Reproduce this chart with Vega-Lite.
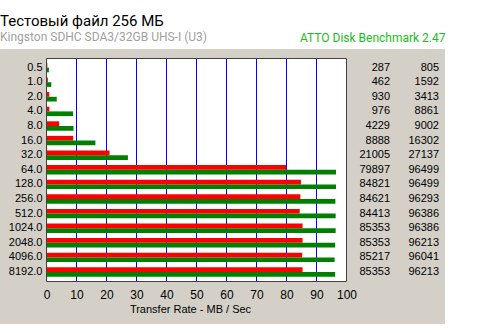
{
  "$schema": "https://vega.github.io/schema/vega-lite/v6.json",
  "width": 445,
  "height": 275,
  "autosize": {"type": "none"},
  "padding": {"left": 0, "top": 49, "right": 55, "bottom": 9},
  "background": "white",
  "config": {"view": {"fill": "#d4d0c8", "stroke": null}},
  "title": {
    "text": "Тестовый файл 256 МБ",
    "subtitle": "Kingston SDHC SDA3/32GB UHS-I (U3)",
    "anchor": "start",
    "frame": "group",
    "font": "Roboto",
    "fontSize": 15,
    "fontWeight": "normal",
    "color": "#000000",
    "subtitleFont": "Roboto",
    "subtitleFontSize": 12,
    "subtitleColor": "#a0a0a0",
    "subtitlePadding": 3,
    "offset": -12
  },
  "datasets": {
    "grid": [{"t": 10000}, {"t": 20000}, {"t": 30000}, {"t": 40000}, {"t": 50000}, {"t": 60000}, {"t": 70000}, {"t": 80000}, {"t": 90000}],
    "bench": [
      {"size": "0.5", "op": "write", "value": 287}, {"size": "0.5", "op": "read", "value": 805},
      {"size": "1.0", "op": "write", "value": 462}, {"size": "1.0", "op": "read", "value": 1592},
      {"size": "2.0", "op": "write", "value": 930}, {"size": "2.0", "op": "read", "value": 3413},
      {"size": "4.0", "op": "write", "value": 976}, {"size": "4.0", "op": "read", "value": 8861},
      {"size": "8.0", "op": "write", "value": 4229}, {"size": "8.0", "op": "read", "value": 9002},
      {"size": "16.0", "op": "write", "value": 8888}, {"size": "16.0", "op": "read", "value": 16302},
      {"size": "32.0", "op": "write", "value": 21005}, {"size": "32.0", "op": "read", "value": 27137},
      {"size": "64.0", "op": "write", "value": 79897}, {"size": "64.0", "op": "read", "value": 96499},
      {"size": "128.0", "op": "write", "value": 84821}, {"size": "128.0", "op": "read", "value": 96499},
      {"size": "256.0", "op": "write", "value": 84621}, {"size": "256.0", "op": "read", "value": 96293},
      {"size": "512.0", "op": "write", "value": 84413}, {"size": "512.0", "op": "read", "value": 96386},
      {"size": "1024.0", "op": "write", "value": 85353}, {"size": "1024.0", "op": "read", "value": 96386},
      {"size": "2048.0", "op": "write", "value": 85353}, {"size": "2048.0", "op": "read", "value": 96213},
      {"size": "4096.0", "op": "write", "value": 85217}, {"size": "4096.0", "op": "read", "value": 96041},
      {"size": "8192.0", "op": "write", "value": 85353}, {"size": "8192.0", "op": "read", "value": 96213}
    ]
  },
  "layer": [
    {
      "data": {"values": [{}]},
      "mark": {"type": "rect", "fill": "#ffffff", "stroke": null},
      "encoding": {
        "x": {
          "datum": 0, "type": "quantitative",
          "scale": {"domain": [0, 100000], "range": [46.5, 346.5], "nice": false, "zero": false},
          "axis": {
            "orient": "top", "labels": false, "ticks": false, "domain": false, "grid": false,
            "title": "ATTO Disk Benchmark 2.47",
            "titleX": 445, "titleY": -8, "titleAlign": "right", "titleAnchor": null, "titleBaseline": "alphabetic",
            "titleFont": "Roboto", "titleFontSize": 12, "titleFontWeight": "normal", "titleColor": "#22bb22"
          }
        },
        "x2": {"datum": 100000},
        "y": {
          "datum": 0, "type": "quantitative",
          "scale": {"domain": [0, 1], "range": [232.5, 9.5], "nice": false, "zero": false},
          "axis": null
        },
        "y2": {"datum": 1}
      }
    },
    {
      "data": {"name": "grid"},
      "mark": {"type": "rule", "color": "#0000ff", "strokeWidth": 1},
      "encoding": {
        "x": {"field": "t", "type": "quantitative", "scale": {"domain": [0, 100000], "range": [46.5, 346.5], "nice": false, "zero": false}, "axis": null},
        "y": {"datum": 0, "type": "quantitative", "scale": {"domain": [0, 1], "range": [232.5, 9.5], "nice": false, "zero": false}, "axis": null},
        "y2": {"datum": 1}
      }
    },
    {
      "data": {"name": "bench"},
      "mark": {"type": "bar"},
      "encoding": {
        "y": {
          "field": "size", "type": "nominal", "sort": null,
          "scale": {"type": "band", "range": [11.3, 230.3], "paddingInner": 0, "paddingOuter": 0},
          "axis": {
            "orient": "left", "offset": -46, "domain": false, "ticks": false, "tickSize": 0, "grid": false,
            "labelPadding": 4, "labelFont": "Liberation Sans", "labelFontSize": 11, "labelColor": "#000000",
            "title": null
          }
        },
        "yOffset": {
          "field": "op", "type": "nominal",
          "scale": {"domain": ["write", "read"], "paddingInner": 0, "paddingOuter": 0.553}
        },
        "x": {
          "field": "value", "type": "quantitative",
          "scale": {"domain": [0, 100000], "range": [46.5, 346.5], "nice": false, "zero": false},
          "axis": {
            "orient": "bottom", "offset": -43,
            "values": [0, 10000, 20000, 30000, 40000, 50000, 60000, 70000, 80000, 90000, 100000],
            "labelExpr": "format(datum.value / 1000, 'd')",
            "domain": false, "ticks": false, "tickSize": 0, "grid": false,
            "labelPadding": 8, "labelFont": "Liberation Sans", "labelFontSize": 12, "labelColor": "#000000",
            "labelFlush": false, "labelOverlap": false,
            "title": "Transfer Rate - MB / Sec",
            "titleFont": "Liberation Sans", "titleFontSize": 11, "titleFontWeight": "normal", "titleColor": "#000000",
            "titleX": 190, "titleY": 31, "titleBaseline": "alphabetic", "titleAlign": "center"
          }
        },
        "color": {
          "field": "op", "type": "nominal",
          "scale": {"domain": ["write", "read"], "range": ["#ff0000", "#008000"]},
          "legend": null
        }
      }
    },
    {
      "data": {"values": [{}]},
      "mark": {"type": "rect", "filled": false, "stroke": "#404040", "strokeWidth": 1},
      "encoding": {
        "x": {"datum": 0, "type": "quantitative", "scale": {"domain": [0, 100000], "range": [46.5, 346.5], "nice": false, "zero": false}, "axis": null},
        "x2": {"datum": 100000},
        "y": {"datum": 0, "type": "quantitative", "scale": {"domain": [0, 1], "range": [232.5, 9.5], "nice": false, "zero": false}, "axis": null},
        "y2": {"datum": 1}
      }
    },
    {
      "data": {"name": "bench"},
      "mark": {"type": "text", "align": "right", "baseline": "middle", "font": "Liberation Sans", "fontSize": 11, "color": "#000000"},
      "encoding": {
        "y": {
          "field": "size", "type": "nominal", "sort": null,
          "scale": {"type": "band", "range": [11.3, 230.3], "paddingInner": 0, "paddingOuter": 0},
          "axis": null
        },
        "x": {
          "field": "op", "type": "nominal",
          "scale": {"type": "point", "domain": ["write", "read"], "range": [390, 439], "padding": 0},
          "axis": null
        },
        "text": {"field": "value", "type": "quantitative", "format": "d"}
      }
    }
  ],
  "resolve": {
    "scale": {"x": "independent", "y": "independent"},
    "axis": {"x": "independent", "y": "independent"}
  }
}
